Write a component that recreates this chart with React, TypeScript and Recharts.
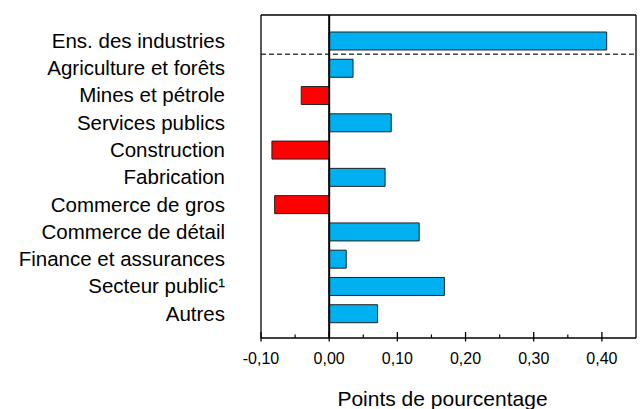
import React from 'react';
import { BarChart, Bar, XAxis, YAxis, Cell, ReferenceLine, Label } from 'recharts';

const categories = [
  'Ens. des industries',
  'Agriculture et forêts',
  'Mines et pétrole',
  'Services publics',
  'Construction',
  'Fabrication',
  'Commerce de gros',
  'Commerce de détail',
  'Finance et assurances',
  'Secteur public¹',
  'Autres',
];
const values = [0.407, 0.035, -0.041, 0.091, -0.084, 0.082, -0.080, 0.132, 0.025, 0.169, 0.071];
const xTicks = [-0.1, -0.05, 0, 0.05, 0.1, 0.15, 0.2, 0.25, 0.3, 0.35, 0.4];
const xDomain = [-0.1, 0.45];
const axisTitle = 'Points de pourcentage';

const data = categories.map((name, i) => ({ name, value: values[i] }));

const FONT = '"Liberation Sans", Arial, sans-serif';

const XTick = (props: any) => {
  const { x, y, payload } = props;
  const v = payload.value as number;
  const major = Math.abs(Math.round(v * 10) - v * 10) < 1e-6;
  if (!major) {
    return <line x1={x} x2={x} y1={y - 3.5} y2={y} stroke="#000" strokeWidth={1.2} />;
  }
  return (
    <g>
      <line x1={x} x2={x} y1={y - 6} y2={y + 3.5} stroke="#000" strokeWidth={1.3} />
      <text x={x} y={y + 26} textAnchor="middle" fontSize={16} fontFamily={FONT} fill="#000">
        {v.toFixed(2).replace('.', ',')}
      </text>
    </g>
  );
};

export default function App() {
  return (
    <div style={{ position: 'absolute', left: 0, top: 0 }}>
      <BarChart
        width={641}
        height={409}
        data={data}
        layout="vertical"
        margin={{ top: 14, right: 5, bottom: 21, left: 0 }}
        barSize={18}
      >
        <XAxis
          type="number"
          domain={xDomain}
          ticks={xTicks}
          interval={0}
          allowDataOverflow
          height={50}
          tickSize={0}
          tickMargin={0}
          tickLine={false}
          axisLine={{ stroke: '#000', strokeWidth: 1.3 }}
          tick={<XTick />}
        >
          <Label
            value={axisTitle}
            position="bottom"
            offset={3}
            dx={-6}
            style={{ fontSize: 21, fontFamily: FONT, fill: '#000' }}
          />
        </XAxis>
        <XAxis
          xAxisId="top"
          orientation="top"
          type="number"
          domain={xDomain}
          allowDataOverflow
          height={1}
          tick={false}
          tickLine={false}
          axisLine={{ stroke: '#000', strokeWidth: 1.3 }}
        />
        <YAxis
          type="category"
          dataKey="name"
          width={261}
          interval={0}
          padding={{ top: 12, bottom: 11 }}
          tickSize={0}
          tickMargin={36}
          tickLine={false}
          axisLine={{ stroke: '#000', strokeWidth: 1.3 }}
          tick={{ fontSize: 20.5, fontFamily: FONT, fill: '#000' }}
        />
        <ReferenceLine x={xDomain[1]} stroke="#000" strokeWidth={1.3} />
        <ReferenceLine
          y={categories[1]}
          position="start"
          stroke="#444"
          strokeWidth={1.3}
          strokeDasharray="5 3"
        />
        <Bar dataKey="value" isAnimationActive={false} stroke="#222" strokeWidth={1}>
          {data.map((d, i) => (
            <Cell key={i} fill={d.value >= 0 ? '#00B0F0' : '#FF0000'} />
          ))}
        </Bar>
        <ReferenceLine x={0} stroke="#000" strokeWidth={2} />
      </BarChart>
    </div>
  );
}
